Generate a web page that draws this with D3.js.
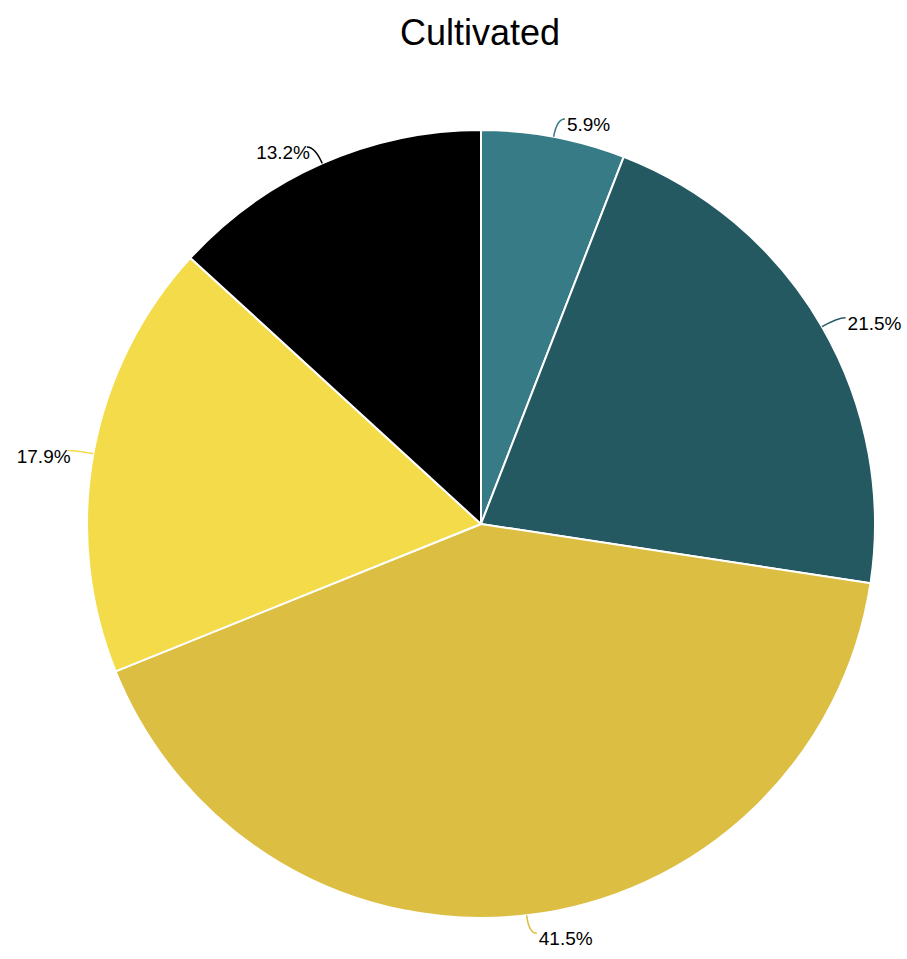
<!DOCTYPE html>
<html>
<head>
<meta charset="utf-8">
<script src="https://cdn.jsdelivr.net/npm/d3@7"></script>
<style>
  body { margin: 0; background: #fff; }
  text { font-family: "Liberation Sans", Arial, sans-serif; }
</style>
</head>
<body>
<div id="chart"></div>
<script>
// Data, clockwise from 12 o'clock
var categories = ["A", "B", "C", "D", "E"];
var values = [5.9, 21.5, 41.5, 17.9, 13.2];
var labels = ["5.9%", "21.5%", "41.5%", "17.9%", "13.2%"];
var colors = ["#367b85", "#245962", "#dbbe42", "#f4db4a", "#000000"];

var width = 907, height = 959;
var cx = 481, cy = 524, radius = 394;

var svg = d3.select("#chart")
  .append("svg")
  .attr("width", width)
  .attr("height", height);

// Title
svg.append("text")
  .attr("x", 480)
  .attr("y", 45)
  .attr("text-anchor", "middle")
  .style("font-size", "36px")
  .style("fill", "#000")
  .text("Cultivated");

var g = svg.append("g")
  .attr("transform", "translate(" + cx + "," + cy + ")");

var pie = d3.pie().sort(null).value(function (d) { return d; });
var arcs = pie(values);

var arc = d3.arc().innerRadius(0).outerRadius(radius);

// Slices
g.selectAll("path.slice")
  .data(arcs)
  .enter()
  .append("path")
  .attr("class", "slice")
  .attr("d", arc)
  .attr("fill", function (d, i) { return colors[i]; })
  .attr("stroke", "#fff")
  .attr("stroke-width", 2)
  .attr("stroke-linejoin", "round");

// helper: point on circle at angle a (0 = top, clockwise)
function pt(a, r) {
  return [Math.sin(a) * r, -Math.cos(a) * r];
}

// Connectors and labels
arcs.forEach(function (d, i) {
  var mid = (d.startAngle + d.endAngle) / 2;
  var right = Math.sin(mid) >= 0;
  var edge = pt(mid, radius);
  var corner = pt(mid, radius + 18);
  var end = [corner[0] + (right ? 8 : -8), corner[1]];

  g.append("path")
    .attr("d", "M" + edge[0] + "," + edge[1] +
      " Q" + corner[0] + "," + corner[1] + " " + end[0] + "," + end[1])
    .attr("fill", "none")
    .attr("stroke", colors[i])
    .attr("stroke-width", 1.5);

  g.append("text")
    .attr("x", right ? corner[0] + 10 : corner[0] - 5)
    .attr("y", corner[1] + 12)
    .attr("text-anchor", right ? "start" : "end")
    .style("font-size", "19px")
    .style("fill", "#000")
    .text(labels[i]);
});
</script>
</body>
</html>
